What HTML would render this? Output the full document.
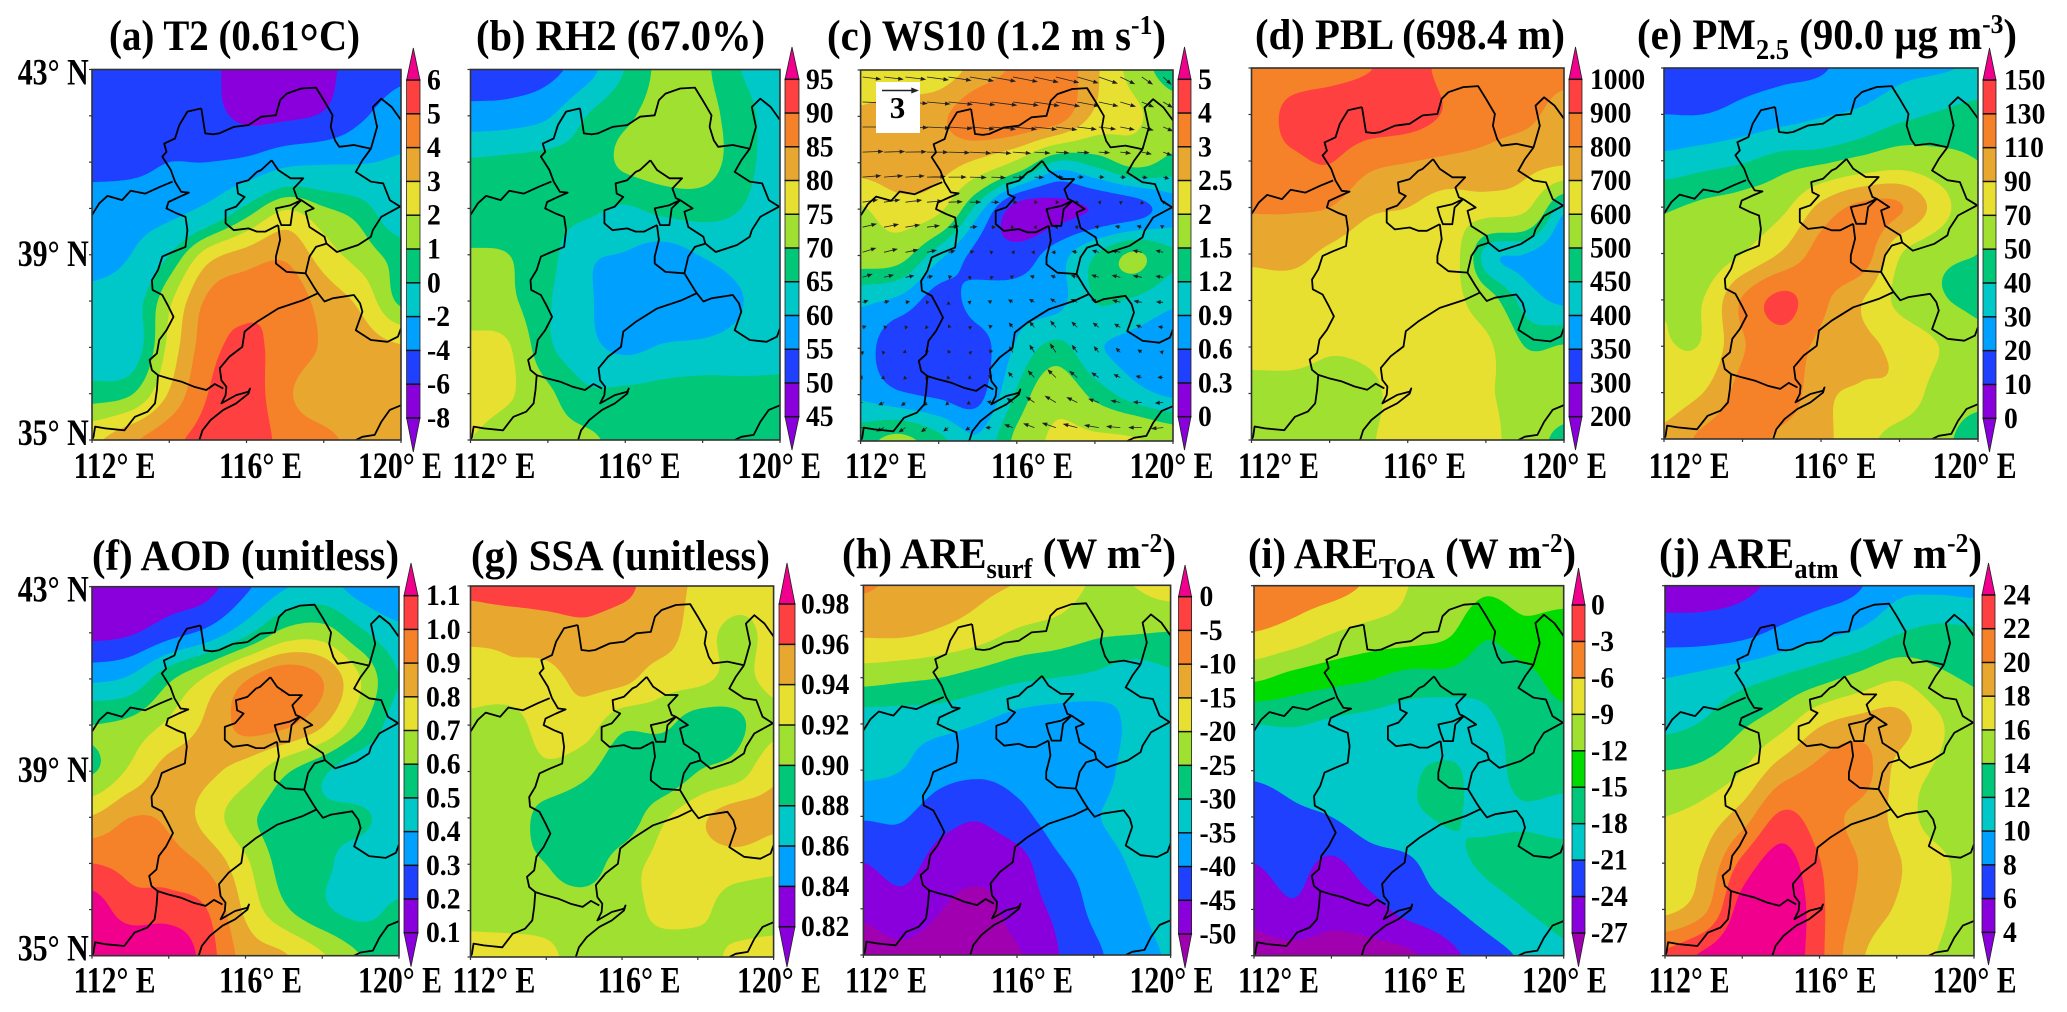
<!DOCTYPE html>
<html lang="en">
<head>
<meta charset="utf-8">
<title>Meteorology and aerosol maps over North China</title>
<style>
html,body{margin:0;padding:0;background:#fff}
svg{display:block}
text{font-family:"Liberation Serif","DejaVu Serif",serif;font-weight:bold;fill:#000}
.title{font-size:43px}
.coord{font-size:37px}
.cb{font-size:30px}
</style>
</head>
<body>
<svg id="chart" xmlns="http://www.w3.org/2000/svg" width="2067" height="1012" viewBox="0 0 2067 1012">
<rect width="2067" height="1012" fill="#fff"/>
<g id="panels"></g>
<g>
<text class="title" x="109" y="50" textLength="251" lengthAdjust="spacingAndGlyphs">(a) T2 (0.61<tspan font-size="54" dy="10">°</tspan><tspan dy="-10">C)</tspan></text>
<text class="title" x="476" y="50" textLength="289" lengthAdjust="spacingAndGlyphs">(b) RH2 (67.0%)</text>
<text class="title" x="827" y="50" textLength="339" lengthAdjust="spacingAndGlyphs">(c) WS10 (1.2 m s<tspan font-size="27" dy="-16">-1</tspan><tspan dy="16">)</tspan></text>
<text class="title" x="1255" y="49" textLength="310" lengthAdjust="spacingAndGlyphs">(d) PBL (698.4 m)</text>
<text class="title" x="1637" y="49" textLength="380" lengthAdjust="spacingAndGlyphs">(e) PM<tspan font-size="28" dy="10">2.5</tspan><tspan dy="-10"> (90.0 μg m</tspan><tspan font-size="27" dy="-16">-3</tspan><tspan dy="16">)</tspan></text>
<text class="title" x="92" y="570" textLength="307" lengthAdjust="spacingAndGlyphs">(f) AOD (unitless)</text>
<text class="title" x="471" y="570" textLength="299" lengthAdjust="spacingAndGlyphs">(g) SSA (unitless)</text>
<text class="title" x="842" y="568" textLength="334" lengthAdjust="spacingAndGlyphs">(h) ARE<tspan font-size="28" dy="10">surf</tspan><tspan dy="-10"> (W m</tspan><tspan font-size="27" dy="-16">-2</tspan><tspan dy="16">)</tspan></text>
<text class="title" x="1248" y="568" textLength="328" lengthAdjust="spacingAndGlyphs">(i) ARE<tspan font-size="28" dy="10">TOA</tspan><tspan dy="-10"> (W m</tspan><tspan font-size="27" dy="-16">-2</tspan><tspan dy="16">)</tspan></text>
<text class="title" x="1659" y="568" textLength="323" lengthAdjust="spacingAndGlyphs">(j) ARE<tspan font-size="28" dy="10">atm</tspan><tspan dy="-10"> (W m</tspan><tspan font-size="27" dy="-16">-2</tspan><tspan dy="16">)</tspan></text>
</g>
</svg>
<script>
// ---------- axis ticks ----------
const lonLabelTicks = [112, 116, 120];
const latLabelTicks = [43, 39, 35];
const lonMinorTicks = [112, 114, 116, 118, 120];
const latMinorTicks = [43, 42, 41, 40, 39, 38, 37, 36, 35];

// ---------- colour scale tick values and labels ----------
const t2Levels = [-8, -6, -4, -2, 0, 1, 2, 3, 4, 5, 6];
const t2TickLabels = ['-8', '-6', '-4', '-2', '0', '1', '2', '3', '4', '5', '6'];
const rh2Levels = [45, 50, 55, 60, 65, 70, 75, 80, 85, 90, 95];
const rh2TickLabels = ['45', '50', '55', '60', '65', '70', '75', '80', '85', '90', '95'];
const ws10Levels = [0, 0.3, 0.6, 0.9, 1.2, 1.5, 2, 2.5, 3, 4, 5];
const ws10TickLabels = ['0', '0.3', '0.6', '0.9', '1.2', '1.5', '2', '2.5', '3', '4', '5'];
const pblLevels = [200, 300, 350, 400, 450, 500, 600, 700, 800, 900, 1000];
const pblTickLabels = ['200', '300', '350', '400', '450', '500', '600', '700', '800', '900', '1000'];
const pm25Levels = [0, 10, 20, 30, 40, 50, 70, 90, 110, 130, 150];
const pm25TickLabels = ['0', '10', '20', '30', '40', '50', '70', '90', '110', '130', '150'];
const aodLevels = [0.1, 0.2, 0.3, 0.4, 0.5, 0.6, 0.7, 0.8, 0.9, 1.0, 1.1];
const aodTickLabels = ['0.1', '0.2', '0.3', '0.4', '0.5', '0.6', '0.7', '0.8', '0.9', '1.0', '1.1'];
const ssaLevels = [0.82, 0.84, 0.86, 0.88, 0.90, 0.92, 0.94, 0.96, 0.98];
const ssaTickLabels = ['0.82', '0.84', '0.86', '0.88', '0.90', '0.92', '0.94', '0.96', '0.98'];
const areSurfLevels = [-50, -45, -40, -35, -30, -25, -20, -15, -10, -5, 0];
const areSurfTickLabels = ['-50', '-45', '-40', '-35', '-30', '-25', '-20', '-15', '-10', '-5', '0'];
const areToaLevels = [-27, -24, -21, -18, -15, -12, -9, -6, -3, 0];
const areToaTickLabels = ['-27', '-24', '-21', '-18', '-15', '-12', '-9', '-6', '-3', '0'];
const areAtmLevels = [4, 6, 8, 10, 12, 14, 16, 18, 20, 22, 24];
const areAtmTickLabels = ['4', '6', '8', '10', '12', '14', '16', '18', '20', '22', '24'];

// ---------- gridded values: rows 43N to 35N, columns 112E to 120E, 1 degree step ----------
const t2Field = [
[-5,-5,-5,-5.6,-6.8,-7,-6.5,-5,-4.3],
[-5,-5,-5,-5.4,-6.4,-6.3,-5.8,-4.2,-3.2],
[-4.6,-4.5,-4,-4,-3.6,-2.5,-2.2,-2.1,-1.8],
[-3.2,-3,-2.7,-1.6,.3,1.9,1.1,.4,-1.2],
[-3,-2,0,2.5,3.4,3.8,2.5,1.5,.6],
[-1.3,-.7,1.8,4.2,4.7,4.7,3.6,2.7,.8],
[-1,-.8,2.3,4.6,5.2,4.6,3.9,3.5,3.1],
[.5,.9,3.1,5,5.6,4.2,3.5,3.5,3.2],
[2.8,3.8,4.7,5.4,5.8,4.6,4.2,3.7,3.3]];
const rh2Field = [
[52,52,53.5,58,65.2,71.5,71,65,62],
[57,57.5,59.5,65,69,72,72,67,62.5],
[65.5,66,66.5,67,71,72.5,72.5,67,62.5],
[66.5,66.5,66.5,66,64.5,66.5,67,65,62],
[70.5,70,66.5,61,59.7,58,60.3,62,62],
[72,71,65.5,61,56,56,57,59.8,63],
[76.5,75.3,66,61.5,59,60.5,61,62,63.5],
[77,75.5,71,66,66,66.5,67,66.5,66],
[75,72.5,71.5,71,68,66.5,66.5,66.5,66.5]];
const ws10Field = [
[2.1,2.1,2.2,2.7,3.1,3.4,2.6,1.8,1.3],
[2.6,2.8,2.9,3.4,3.5,3.3,2.4,2.1,1.7],
[2.7,2.8,2.7,2.4,1.9,1.15,1.3,1.6,1.4],
[1.95,2.3,2.1,1.05,.15,.2,.32,.45,.75],
[1.7,1.65,1.0,.5,.45,.75,1.2,1.55,1.25],
[.95,.8,.45,.72,.75,.8,1.2,1.15,.95],
[.75,.35,.4,.45,.95,1.3,.95,.8,.65],
[.85,.65,.55,.5,1.25,1.8,1.4,1.05,.85],
[1.4,1.6,1.3,.95,1.6,2.1,2.1,2.05,1.8]];
const pblField = [
[830,840,860,895,940,870,840,830,820],
[820,930,960,960,950,890,840,820,770],
[850,880,905,830,805,785,770,740,720],
[810,810,800,720,700,660,650,620,420],
[720,730,680,640,640,670,430,400,365],
[660,650,650,650,650,640,540,430,390],
[640,640,610,620,650,650,620,500,505],
[560,560,560,580,640,650,610,570,560],
[550,550,540,590,640,640,620,560,470]];
const pm25Field = [
[15,15,17,18,19,25,28,29,31],
[20,20,23,26,29,32,37,41,44],
[33,36,39,44,47,54,60,55,50],
[49,52,56,65,95,115,112,80,53],
[52,55,70,92,118,125,72,55,50],
[68,70,112,135,115,92,65,52,47],
[71,72,108,122,105,95,85,70,55],
[78,90,118,125,95,88,85,62,55],
[95,115,122,105,95,78,62,55,42]];
const aodField = [
[.1,.12,.15,.17,.28,.39,.43,.36,.3],
[.17,.19,.26,.33,.47,.63,.65,.52,.43],
[.38,.42,.58,.72,.89,.98,.9,.7,.5],
[.6,.63,.72,.82,.93,.92,.81,.62,.44],
[.59,.72,.84,.82,.75,.62,.52,.42,.4],
[.81,.9,.88,.76,.63,.55,.52,.52,.44],
[1.0,.97,.95,.88,.72,.56,.52,.45,.42],
[1.15,1.05,1.05,1.0,.78,.62,.52,.47,.52],
[1.15,1.2,1.2,1.05,.86,.81,.71,.6,.54]];
const ssaField = [
[.965,.97,.97,.97,.965,.95,.937,.93,.925],
[.945,.945,.95,.955,.95,.95,.93,.915,.925],
[.93,.935,.935,.945,.945,.93,.925,.915,.925],
[.915,.91,.93,.93,.905,.905,.89,.895,.915],
[.905,.905,.915,.905,.885,.882,.90,.91,.935],
[.91,.91,.893,.885,.885,.915,.935,.95,.945],
[.905,.905,.90,.89,.91,.925,.93,.93,.925],
[.915,.91,.91,.91,.91,.925,.925,.91,.91],
[.925,.93,.925,.91,.91,.91,.91,.925,.93]];
const areSurfField = [
[-9.5,-11,-12.5,-14,-15.2,-17,-20.5,-20,-18],
[-14,-14,-15.5,-17.5,-20.5,-22,-24,-24.5,-25],
[-23,-24,-25,-27,-29,-30,-31,-33,-31],
[-33,-33,-33.5,-35,-37,-38,-38,-34,-33],
[-34,-35,-38,-39,-38.5,-38.5,-38,-33,-33],
[-39.5,-39.5,-43,-44.5,-41.5,-38,-35.5,-33,-33],
[-45,-43,-47,-48,-47,-41,-38,-34.5,-33],
[-49,-47,-49.8,-51.5,-48,-44,-39,-36,-33],
[-52,-51,-52,-52,-50.5,-45.5,-41,-37.5,-34.5]];
const areToaField = [
[-5,-4.8,-5,-6.5,-9,-10,-11.5,-10.5,-10],
[-6,-7,-8.8,-10,-10.5,-11.5,-14.5,-13,-14],
[-11.5,-13,-14,-14.8,-16,-16,-17,-15.8,-14],
[-18,-17.8,-18.5,-19,-19.5,-20,-18.5,-17,-16],
[-20.5,-20,-20,-20,-18.5,-17.5,-19,-17,-17],
[-22.5,-21.5,-21,-19.5,-18.5,-17.8,-18.5,-18.3,-18.7],
[-24,-23,-24.5,-22.5,-21.5,-19,-17.6,-17,-17],
[-26,-24.5,-26,-25,-23,-21.5,-19.5,-18,-17],
[-28,-28,-28,-28,-27.5,-25,-22.3,-20.5,-18.5]];
const areAtmField = [
[5,5.2,5.6,6.4,7,7.8,9.5,9.6,9.4],
[7,7,7.4,8.4,9.4,10.2,11.8,12.5,12.3],
[10,10.5,11.3,12.2,13.3,14.6,15.8,14.5,13.8],
[11.5,12.2,13.7,15.3,17.8,18.8,18.7,16.5,14.5],
[14,14.5,16,19,20.5,21.2,17.5,15.8,14.5],
[16,16.8,19,22.4,21,19.4,17.5,15,14.5],
[16.6,18.2,22.5,25,22.1,20,18.2,16.8,14.8],
[17.5,19.5,25,26.5,22.5,19.6,17.8,16.5,15.2],
[22.5,24.4,26,26,22.5,18.5,16.5,16,15]];

// ---------- 10 m wind components (m/s), same grid ----------
const windU = [
[2,2.2,2.5,2.7,2.8,2.6,2.2,1.3,.7],
[2.5,2.6,2.8,3,3,2.8,2.3,1.5,1],
[2.3,2.3,2.3,2.2,1.7,1.1,.9,1,.8],
[1.6,1.8,1.6,.9,.15,.2,-.2,-.3,.2],
[1.5,1.5,.8,.3,-.2,-.5,-.7,-1.1,-.8],
[.6,.5,.1,-.3,-.5,-.6,-.8,-.9,-.7],
[.2,.1,0,-.1,-.4,-.6,-.5,-.4,-.3],
[-.7,-.4,-.2,-.3,-.6,-1.1,-1.0,-.8,-.7],
[-1.0,-.9,-.7,-.5,-1.1,-1.7,-1.9,-1.8,-1.5]];
const windV = [
[-.3,-.3,-.4,-.5,-.6,-.7,-.8,-.9,-.9],
[0,-.1,-.2,-.3,-.3,-.4,-.3,-.4,-.5],
[.1,.1,0,-.1,-.1,0,0,-.1,-.4],
[.3,.3,.1,0,0,0,0,.1,.2],
[.5,.3,.2,.1,0,0,.2,.2,.2],
[.2,.1,0,.1,.3,.4,.3,.2,0],
[.1,0,-.1,.1,.7,1,.7,.4,0],
[-.1,-.3,-.3,-.1,.6,.8,.5,.1,-.1],
[-.3,-.6,-.5,-.3,.3,.4,.2,0,-.2]];
const windReferenceValue = 3;

// ---------- province boundaries, [lon, lat] ----------
const borderLines = [
[[112,39.86],[112.19,40.11],[112.4,40.27],[112.78,40.18],[113,40.38],[113.38,40.32],[113.77,40.47],[114.09,40.58]],
[[114.83,42.16],[114.47,42.09],[114.26,41.8],[114.15,41.51],[113.87,41.4],[113.93,41.22],[113.82,41.12],[114.04,40.83],[114.15,40.58],[114.31,40.36],[114.51,40.34],[114.26,40.25],[113.98,40.14],[113.93,40],[114.2,39.89],[114.42,39.82],[114.47,39.53],[114.42,39.17],[114.09,39.06],[113.82,38.96],[113.71,38.67],[113.55,38.45],[113.57,38.24],[113.82,38.13],[113.98,37.88],[114.11,37.66],[113.93,37.37],[113.74,37.16],[113.68,36.87],[113.49,36.73],[113.55,36.51],[113.71,36.4],[113.68,36.08],[113.63,35.79],[113.44,35.61],[113.11,35.5],[112.84,35.21],[112.35,35.25],[112.08,35.29],[112.04,35.07],[112,35]],
[[113.71,36.4],[113.98,36.33],[114.31,36.26],[114.64,36.15],[114.96,36.08],[115.18,36.21],[115.4,36.11]],
[[117.85,38.17],[117.47,38.02],[116.82,37.84],[116.27,37.55],[115.95,37.34],[115.89,37.01],[115.56,36.8],[115.31,36.55],[115.35,36.29],[115.48,36.15],[115.46,35.97],[115.35,35.79],[115.73,35.97],[116.05,36.04],[116.09,36.11],[116.05,36],[115.73,35.79],[115.4,35.65],[115.07,35.43],[114.86,35.21],[114.78,35]],
[[114.83,42.16],[114.93,41.62],[115.13,41.6],[115.29,41.62],[115.67,41.76],[116.05,41.8],[116.38,41.98],[116.76,42.01],[116.87,42.34],[117.04,42.48],[117.42,42.59],[117.8,42.61],[118,42.34],[118.23,42.01],[118.18,41.76],[118.29,41.47],[118.4,41.33],[118.78,41.37],[119.22,41.29]],
[[119.22,41.29],[119.38,41.76],[119.27,42.19],[119.49,42.37],[119.76,42.19],[120,41.91]],
[[119.22,41.29],[119,41.04],[118.83,40.79],[119.22,40.58],[119.54,40.54],[119.71,40.18],[119.98,40.04],[119.49,39.82],[119.27,39.53],[119.22,39.39],[118.89,39.21],[118.34,39.06],[118.07,39.24],[117.8,39.17],[117.63,38.96],[117.53,38.6],[117.74,38.31],[117.85,38.17],[118.02,37.99],[118.23,38.06],[118.78,38.13],[118.94,37.95],[119,37.77],[118.83,37.37],[119.22,37.16],[119.65,37.12],[119.92,37.23],[120,37.41]],
[[120,35.75],[119.71,35.65],[119.49,35.39],[119.32,35.11],[119,35.07],[118.83,35]],
[[116.65,41.04],[116.38,40.83],[116.27,40.79],[116.05,40.61],[115.75,40.54],[115.78,40.32],[115.95,40.25],[115.73,40.04],[115.46,39.96],[115.46,39.68],[115.67,39.53],[116.05,39.57],[116.27,39.5],[116.49,39.5],[116.82,39.64]],
[[116.65,41.04],[116.82,40.83],[117.14,40.65],[117.47,40.65],[117.22,40.43],[117.31,40.22],[117.42,40.18]],
[[117.42,40.18],[117.14,40.07],[116.76,40],[116.82,39.82],[116.9,39.64],[117.14,39.64],[117.2,40],[117.42,40.18]],
[[116.82,39.64],[116.87,39.32],[116.76,38.96],[116.76,38.81],[117.04,38.63],[117.53,38.6]],
[[117.42,40.18],[117.74,40],[117.53,39.93],[117.63,39.6],[118.02,39.39],[118.07,39.24]]
];

// ---------- colours ----------
const PURPLE='#8a00dc',BLUE='#2040ff',SKY='#00a0ff',TEAL='#00c8c8',GREEN='#00c878',YG='#a0e030',YELLOW='#e8e030',GOLD='#e8a830',ORANGE='#f58228',RED='#ff4040',MAGENTA='#f0008c',DEEP='#a000b0',LIME='#00dc00';
const stdColors = [PURPLE,PURPLE,BLUE,SKY,TEAL,GREEN,YG,YELLOW,GOLD,ORANGE,RED,MAGENTA];
const surfColors = [DEEP,PURPLE,BLUE,SKY,TEAL,GREEN,YG,YELLOW,GOLD,ORANGE,RED,MAGENTA];
const ssaColors = [PURPLE,PURPLE,SKY,TEAL,GREEN,YG,YELLOW,GOLD,RED,MAGENTA];
const toaColors = [DEEP,PURPLE,BLUE,TEAL,GREEN,LIME,YG,YELLOW,ORANGE,RED,MAGENTA];

// ---------- page layout ----------
const lonLabelSlots = [
[[73.6,82],[219,83],[358,84]],
[[452.4,83],[597.6,83],[737,84]],
[[845,82],[991,82],[1129.5,84]],
[[1238,81],[1383,83],[1522,85]],
[[1648.6,81],[1793.5,83],[1932.6,84]]];
const latLabelNudge = [15, 11, 5];
const panelConfigs = [
{id:'t2',field:t2Field,levels:t2Levels,ticks:t2TickLabels,colors:stdColors,col:0,x:[92,401],y:[69.5,440],bar:[406.6,420,48,80,418,452,427],lonY:478,lat:true},
{id:'rh2',field:rh2Field,levels:rh2Levels,ticks:rh2TickLabels,colors:stdColors,col:1,x:[470.5,780],y:[69.5,440],bar:[785,799,47,79.3,416.7,450,806],lonY:478},
{id:'ws10',field:ws10Field,levels:ws10Levels,ticks:ws10TickLabels,colors:stdColors,col:2,x:[860.6,1173],y:[70,441],bar:[1178,1191,47,79.3,416.7,450,1198],lonY:478,wind:true},
{id:'pbl',field:pblField,levels:pblLevels,ticks:pblTickLabels,colors:stdColors,col:3,x:[1251.5,1564],y:[68,440],bar:[1569,1582,47,79.3,416.7,450,1590],lonY:478},
{id:'pm25',field:pm25Field,levels:pm25Levels,ticks:pm25TickLabels,colors:stdColors,col:4,x:[1664,1978],y:[68,439],bar:[1983,1996,48,80,418.3,452,2004],lonY:478},
{id:'aod',field:aodField,levels:aodLevels,ticks:aodTickLabels,colors:stdColors,col:0,x:[92,399],y:[586.7,955.7],bar:[404,418,563,595.7,932.7,966.7,426],lonY:992.7,lat:true},
{id:'ssa',field:ssaField,levels:ssaLevels,ticks:ssaTickLabels,colors:ssaColors,col:1,x:[470.5,773.6],y:[586,957],bar:[779,795,563,604,926.7,967,801],lonY:992.7},
{id:'are-surf',field:areSurfField,levels:areSurfLevels,ticks:areSurfTickLabels,colors:surfColors,col:2,x:[863.4,1170.6],y:[585.3,955],bar:[1178.5,1191.6,565,596.7,934,968,1199.5],lonY:992.7},
{id:'are-toa',field:areToaField,levels:areToaLevels,ticks:areToaTickLabels,colors:toaColors,col:3,x:[1254,1563.7],y:[585.7,955.7],bar:[1572,1585,568,605,933,966.7,1591],lonY:992.7},
{id:'are-atm',field:areAtmField,levels:areAtmLevels,ticks:areAtmTickLabels,colors:stdColors,col:4,x:[1665,1974],y:[585.7,955.7],bar:[1982,1995,563,595,932.3,965,2003],lonY:992.7}
];

// ---------- helpers ----------
const NS = 'http://www.w3.org/2000/svg';
function make(tag, parent, attrs) {
  const el = document.createElementNS(NS, tag);
  for (const k in attrs) el.setAttribute(k, attrs[k]);
  parent.appendChild(el);
  return el;
}
function catmull(p0, p1, p2, p3, t) {
  return 0.5 * (2*p1 + (p2-p0)*t + (2*p0-5*p1+4*p2-p3)*t*t + (3*p1-p0-3*p2+p3)*t*t*t);
}
function clampIndex(i, n) { return Math.max(0, Math.min(n-1, i)); }
function sampleSmooth(field, fx, fy) {
  const rows = field.length, cols = field[0].length;
  const ix = Math.min(cols-2, Math.floor(fx)), iy = Math.min(rows-2, Math.floor(fy));
  const tx = fx-ix, ty = fy-iy, vals = [];
  for (let r = -1; r <= 2; r++) {
    const row = field[clampIndex(iy+r, rows)];
    vals.push(catmull(row[clampIndex(ix-1,cols)], row[ix], row[ix+1], row[clampIndex(ix+2,cols)], tx));
  }
  return catmull(vals[0], vals[1], vals[2], vals[3], ty);
}
function sampleLinear(field, fx, fy) {
  const rows = field.length, cols = field[0].length;
  const ix = Math.min(cols-2, Math.floor(fx)), iy = Math.min(rows-2, Math.floor(fy));
  const tx = fx-ix, ty = fy-iy;
  const top = field[iy][ix]*(1-tx) + field[iy][ix+1]*tx;
  const bot = field[iy+1][ix]*(1-tx) + field[iy+1][ix+1]*tx;
  return top*(1-ty) + bot*ty;
}
function fmt(v) { return Math.round(v*10)/10; }

// region of the plot where the field is at or above a threshold
function contourRegionPath(grid, xs, ys, threshold) {
  const parts = [];
  for (let j = 0; j < ys.length-1; j++) {
    let runStart = -1;
    for (let i = 0; i < xs.length-1; i++) {
      const a = grid[j][i], b = grid[j][i+1], c = grid[j+1][i+1], d = grid[j+1][i];
      const full = a >= threshold && b >= threshold && c >= threshold && d >= threshold;
      if (full) { if (runStart < 0) runStart = i; continue; }
      if (runStart >= 0) {
        parts.push('M'+fmt(xs[runStart])+' '+fmt(ys[j])+'L'+fmt(xs[i])+' '+fmt(ys[j])+'L'+fmt(xs[i])+' '+fmt(ys[j+1])+'L'+fmt(xs[runStart])+' '+fmt(ys[j+1])+'Z');
        runStart = -1;
      }
      if (a < threshold && b < threshold && c < threshold && d < threshold) continue;
      const corners = [[xs[i],ys[j],a],[xs[i+1],ys[j],b],[xs[i+1],ys[j+1],c],[xs[i],ys[j+1],d]];
      const out = [];
      for (let k = 0; k < 4; k++) {
        const p = corners[k], q = corners[(k+1)%4];
        if (p[2] >= threshold) out.push([p[0],p[1]]);
        if ((p[2] >= threshold) !== (q[2] >= threshold)) {
          const t = (threshold-p[2])/(q[2]-p[2]);
          out.push([p[0]+(q[0]-p[0])*t, p[1]+(q[1]-p[1])*t]);
        }
      }
      parts.push('M'+out.map(pt => fmt(pt[0])+' '+fmt(pt[1])).join('L')+'Z');
    }
    if (runStart >= 0) {
      const xe = xs[xs.length-1];
      parts.push('M'+fmt(xs[runStart])+' '+fmt(ys[j])+'L'+fmt(xe)+' '+fmt(ys[j])+'L'+fmt(xe)+' '+fmt(ys[j+1])+'L'+fmt(xs[runStart])+' '+fmt(ys[j+1])+'Z');
    }
  }
  return parts.join('');
}

// ---------- draw ----------
const root = document.getElementById('panels');
panelConfigs.forEach(function (cfg) {
  const g = make('g', root, {});
  
  
  const x0 = cfg.x[0], x1 = cfg.x[1], y0 = cfg.y[0], y1 = cfg.y[1];
  const lonToX = lon => x0 + (lon-112)/8*(x1-x0);
  const latToY = lat => y0 + (43-lat)/8*(y1-y0);

  const clip = make('clipPath', g, {id:'clip-'+cfg.id});
  make('rect', clip, {x:x0,y:y0,width:x1-x0,height:y1-y0});

  // filled contours
  const base = make('rect', g, {x:x0,y:y0,width:x1-x0,height:y1-y0,fill:cfg.colors[0]});
  
  
  const nx = Math.round((x1-x0)/3), ny = Math.round((y1-y0)/3), xs = [], ys = [], grid = [];
  for (let i = 0; i <= nx; i++) xs.push(x0+(x1-x0)*i/nx);
  for (let j = 0; j <= ny; j++) ys.push(y0+(y1-y0)*j/ny);
  const rows = cfg.field.length, cols = cfg.field[0].length;
  for (let j = 0; j <= ny; j++) {
    const line = [];
    for (let i = 0; i <= nx; i++) line.push(sampleSmooth(cfg.field, i/nx*(cols-1), j/ny*(rows-1)));
    grid.push(line);
  }
  cfg.levels.forEach(function (level, k) {
    const d = contourRegionPath(grid, xs, ys, level);
    if (!d) return;
    const band = make('path', g, {d:d,fill:cfg.colors[k+1]});
    
    
  });

  // wind vectors
  if (cfg.wind) {
    const pxPerMs = 8.5;
    const windGroup = make('g', g, {'clip-path':'url(#clip-'+cfg.id+')'});
    
    
    for (let r = 0; r < 15; r++) {
      for (let c = 0; c < 15; c++) {
        const lon = 112.05 + c*0.55, lat = 42.85 - r*0.54;
        const fx = lon-112, fy = 43-lat;
        const u = sampleLinear(windU, fx, fy), v = sampleLinear(windV, fx, fy);
        const tx = lonToX(lon), ty = latToY(lat);
        const hx = tx+u*pxPerMs, hy = ty-v*pxPerMs;
        const len = Math.hypot(hx-tx, hy-ty) || 1;
        const ux = (hx-tx)/len, uy = (hy-ty)/len, hl = Math.min(4, 2+len*0.2), hw = 1.5;
        const d = 'M'+fmt(tx)+' '+fmt(ty)+'L'+fmt(hx)+' '+fmt(hy)+
          'M'+fmt(hx)+' '+fmt(hy)+'L'+fmt(hx-ux*hl-uy*hw)+' '+fmt(hy-uy*hl+ux*hw)+'L'+fmt(hx-ux*hl+uy*hw)+' '+fmt(hy-uy*hl-ux*hw)+'Z';
        const arrow = make('path', windGroup, {d:d,stroke:'#222','stroke-width':0.8,fill:'#111'});
        
        
      }
    }
  }

  // province borders
  const borderGroup = make('g', g, {'clip-path':'url(#clip-'+cfg.id+')',fill:'none',stroke:'#000','stroke-width':1.8,'stroke-linejoin':'round'});
  
  
  borderLines.forEach(function (line) {
    const d = 'M'+line.map(p => fmt(lonToX(p[0]))+' '+fmt(latToY(p[1]))).join('L');
    const path = make('path', borderGroup, {d:d});
    
    
  });

  // wind reference box
  if (cfg.wind) {
    const box = make('rect', g, {x:876,y:82,width:44,height:51,fill:'#fff'});
    
    
    const bx = 882, by = 90.5, blen = 35;
    const ref = make('path', g, {d:'M'+bx+' '+by+'L'+(bx+blen)+' '+by+'M'+(bx+blen)+' '+by+'L'+(bx+blen-5)+' '+(by-2)+'L'+(bx+blen-5)+' '+(by+2)+'Z',stroke:'#222','stroke-width':1.4,fill:'#111'});
    
    
    const refText = make('text', g, {x:897.5,y:118,'text-anchor':'middle','font-size':31});
    refText.textContent = String(windReferenceValue);
    
    
  }

  // frame and ticks
  const frame = make('rect', g, {x:x0,y:y0,width:x1-x0,height:y1-y0,fill:'none',stroke:'#333','stroke-width':1.6});
  
  
  lonMinorTicks.forEach(function (lon) {
    const tick = make('line', g, {x1:lonToX(lon),x2:lonToX(lon),y1:y1,y2:y1+3,stroke:'#333','stroke-width':1.2});
    
    
  });
  latMinorTicks.forEach(function (lat) {
    const tick = make('line', g, {x1:x0-3,x2:x0,y1:latToY(lat),y2:latToY(lat),stroke:'#333','stroke-width':1.2});
    
    
  });

  // coordinate labels
  lonLabelTicks.forEach(function (lon, i) {
    const slot = lonLabelSlots[cfg.col][i];
    const t = make('text', g, {x:slot[0],y:cfg.lonY,class:'coord',textLength:slot[1],lengthAdjust:'spacingAndGlyphs'});
    t.textContent = lon + '° E';
    
    
  });
  if (cfg.lat) {
    latLabelTicks.forEach(function (lat, i) {
      const t = make('text', g, {x:17.7,y:latToY(lat)+latLabelNudge[i],class:'coord',textLength:71,lengthAdjust:'spacingAndGlyphs'});
      t.textContent = lat + '° N';
      
      
    });
  }

  // colour bar
  const bl = cfg.bar[0], br = cfg.bar[1], tipTop = cfg.bar[2], barTop = cfg.bar[3], barBottom = cfg.bar[4], tipBottom = cfg.bar[5], labelX = cfg.bar[6];
  const levelToY = idx => barBottom - idx*(barBottom-barTop)/(cfg.levels.length-1);
  const mid = (bl+br)/2;
  const cbar = make('g', g, {});
  
  
  const lowTip = make('polygon', cbar, {points:bl+','+barBottom+' '+br+','+barBottom+' '+mid+','+tipBottom,fill:cfg.colors[0]});
  
  
  const highTip = make('polygon', cbar, {points:bl+','+barTop+' '+br+','+barTop+' '+mid+','+tipTop,fill:cfg.colors[cfg.colors.length-1]});
  
  
  for (let k = 0; k < cfg.levels.length-1; k++) {
    const seg = make('rect', cbar, {x:bl,y:levelToY(k+1),width:br-bl,height:levelToY(k)-levelToY(k+1),fill:cfg.colors[k+1]});
    
    
  }
  const outline = make('path', cbar, {d:'M'+mid+' '+tipTop+'L'+br+' '+barTop+'L'+br+' '+barBottom+'L'+mid+' '+tipBottom+'L'+bl+' '+barBottom+'L'+bl+' '+barTop+'Z',fill:'none',stroke:'#222','stroke-width':0.8});
  
  
  cfg.levels.forEach(function (level, k) {
    const yy = levelToY(k);
    const tick = make('line', cbar, {x1:bl-0.5,x2:br+0.5,y1:yy,y2:yy,stroke:'#111','stroke-width':1.5});
    
    
    const t = make('text', cbar, {x:labelX,y:yy+9.5,class:'cb'});
    t.textContent = cfg.ticks[k];
    const labelWidth = t.getComputedTextLength();
    if (labelWidth > 0) {
      t.setAttribute('textLength', (labelWidth*0.92).toFixed(1));
      t.setAttribute('lengthAdjust', 'spacingAndGlyphs');
    }
    
    
  });
});
</script>
</body>
</html>
